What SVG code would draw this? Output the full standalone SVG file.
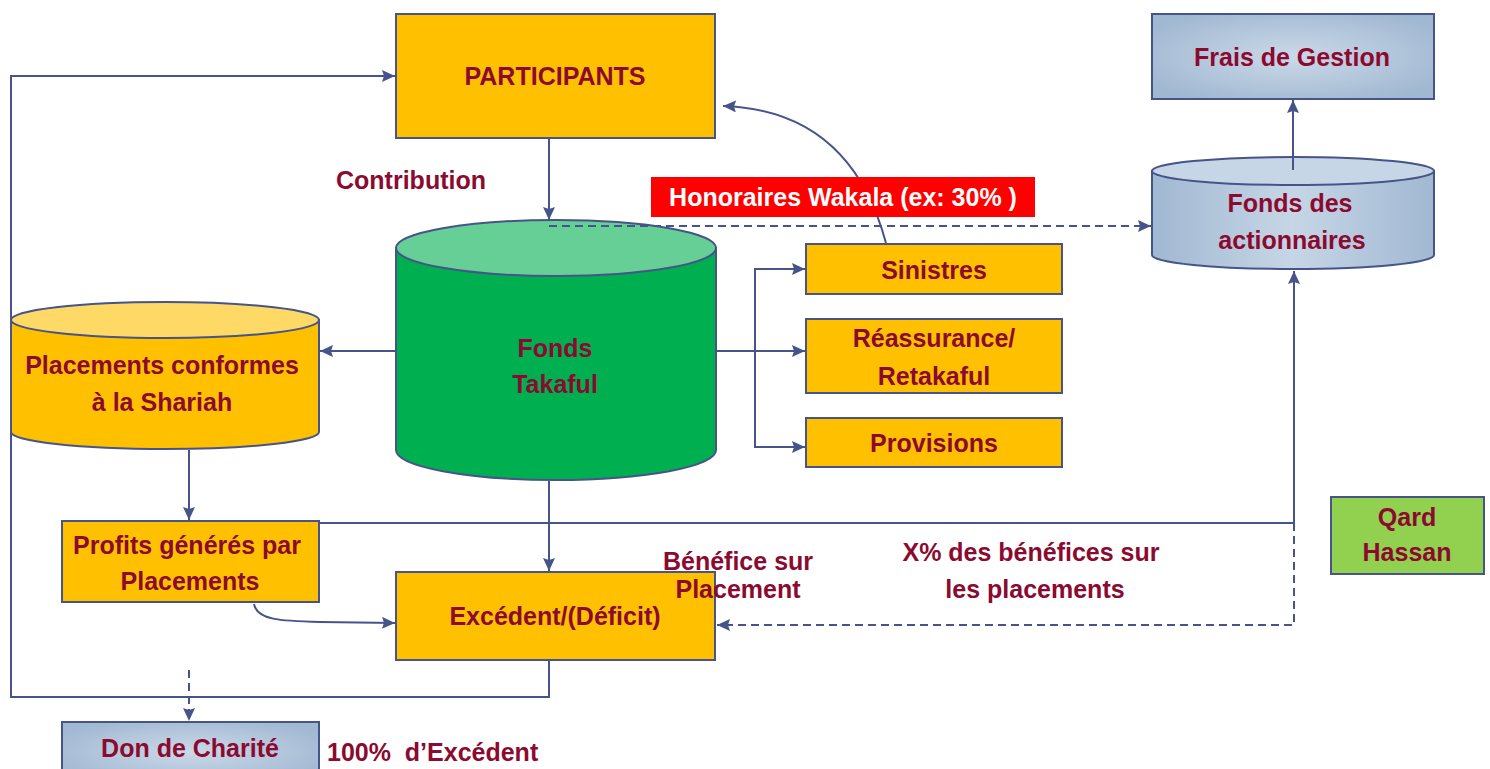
<svg xmlns="http://www.w3.org/2000/svg" width="1490" height="769" viewBox="0 0 1490 769">
  <defs>
    <style>
      .lbl { font-family: "Liberation Sans", Arial, sans-serif; font-weight: bold; font-size: 25px; fill: #8B0A30; text-anchor: middle; }
      .white { fill: #FFFFFF; }
      .start { text-anchor: start; }
      .box { stroke: #46548A; stroke-width: 2; }
      .gold { fill: #FFC000; }
      .blue { fill: url(#steel); }
      .link { fill: none; stroke: #46548A; stroke-width: 2; }
      .dash { stroke-dasharray: 8 5; }
    </style>
    <radialGradient id="steel" cx="50%" cy="50%" r="60%">
      <stop offset="0" stop-color="#CBD9E8"/>
      <stop offset="1" stop-color="#A1B8D2"/>
    </radialGradient>
    <linearGradient id="steelBody" x1="0" y1="0" x2="1" y2="0">
      <stop offset="0" stop-color="#A1B8D2"/>
      <stop offset="0.5" stop-color="#C6D6E6"/>
      <stop offset="1" stop-color="#A1B8D2"/>
    </linearGradient>
    <marker id="arrow" viewBox="0 0 13 12" refX="13" refY="6" markerWidth="13" markerHeight="12" markerUnits="userSpaceOnUse" orient="auto">
      <path d="M0,0 L13,6 L0,12 L2,6 Z" fill="#46548A"/>
    </marker>
  </defs>

  <g id="participants">
    <rect class="box gold" x="396" y="14" width="319" height="124"/>
    <text class="lbl" x="555" y="85">PARTICIPANTS</text>
  </g>

  <g id="fonds-takaful">
    <path class="box" fill="#00B050" d="M396,248 V450 A160,30 0 0 0 716,450 V248 Z"/>
    <ellipse class="box" fill="#66CF96" cx="556" cy="248" rx="160" ry="28"/>
    <text class="lbl" x="555" y="357">Fonds</text>
    <text class="lbl" x="555" y="393">Takaful</text>
  </g>

  <g id="frais-gestion">
    <rect class="box blue" x="1152" y="14" width="282" height="85"/>
    <text class="lbl" x="1292" y="66">Frais de Gestion</text>
  </g>

  <g id="fonds-actionnaires">
    <path class="box" fill="url(#steelBody)" d="M1152,171 V255 A141,14 0 0 0 1434,255 V171 Z"/>
    <ellipse class="box" fill="#C6D6E6" cx="1293" cy="171" rx="141" ry="14"/>
    <text class="lbl" x="1290" y="212">Fonds des</text>
    <text class="lbl" x="1292" y="249">actionnaires</text>
  </g>

  <g id="sinistres">
    <rect class="box gold" x="806" y="244" width="256" height="50"/>
    <text class="lbl" x="934" y="279">Sinistres</text>
  </g>

  <g id="reassurance">
    <rect class="box gold" x="806" y="319" width="256" height="74"/>
    <text class="lbl" x="934" y="347">Réassurance/</text>
    <text class="lbl" x="934" y="385">Retakaful</text>
  </g>

  <g id="provisions">
    <rect class="box gold" x="806" y="418" width="256" height="49"/>
    <text class="lbl" x="934" y="452">Provisions</text>
  </g>

  <g id="placements">
    <path class="box gold" d="M11,320 V432 A154,17 0 0 0 319,432 V320 Z"/>
    <ellipse class="box" fill="#FFD966" cx="165" cy="320" rx="154" ry="18"/>
    <text class="lbl" x="162" y="374">Placements conformes</text>
    <text class="lbl" x="162" y="411">à la Shariah</text>
  </g>

  <g id="profits">
    <rect class="box gold" x="62" y="521" width="257" height="81"/>
    <text class="lbl" x="187" y="554">Profits générés par</text>
    <text class="lbl" x="190" y="590">Placements</text>
  </g>

  <g id="excedent">
    <rect class="box gold" x="396" y="572" width="319" height="88"/>
    <text class="lbl" x="555" y="625">Excédent/(Déficit)</text>
  </g>

  <g id="qard-hassan">
    <rect class="box" fill="#92D050" x="1331" y="497" width="153" height="77"/>
    <text class="lbl" x="1407" y="526">Qard</text>
    <text class="lbl" x="1407" y="561">Hassan</text>
  </g>

  <g id="don-charite">
    <rect class="box blue" x="62" y="722" width="257" height="60"/>
    <text class="lbl" x="190" y="757">Don de Charité</text>
  </g>

  <!-- connectors -->
  <g id="connectors">
    <!-- surplus returned to participants -->
    <path class="link" d="M549,661 V697 H11 V76 H395" marker-end="url(#arrow)"/>
    <!-- contribution -->
    <path class="link" d="M549,139 V220" marker-end="url(#arrow)"/>
    <!-- wakala fee to shareholders -->
    <path class="link dash" d="M549,226 H1151" marker-end="url(#arrow)"/>
    <!-- claims back to participants -->
    <path class="link" d="M886,243 Q850,110 723,106" marker-end="url(#arrow)"/>
    <!-- fund to outflows -->
    <path class="link" d="M717,351 H805" marker-end="url(#arrow)"/>
    <path class="link" d="M805,269 H755 V447 H805" marker-end="url(#arrow)"/>
    <path class="link" d="M755,269 H805" marker-end="url(#arrow)"/>
    <!-- fund to investments -->
    <path class="link" d="M395,351 H320" marker-end="url(#arrow)"/>
    <path class="link" d="M189,450 V520" marker-end="url(#arrow)"/>
    <!-- profits to shareholders -->
    <path class="link" d="M320,523 H1294 V271" marker-end="url(#arrow)"/>
    <!-- share of profits back to surplus -->
    <path class="link dash" d="M1294,523 V625 H717" marker-end="url(#arrow)"/>
    <!-- fund to surplus -->
    <path class="link" d="M549,481 V571" marker-end="url(#arrow)"/>
    <!-- profits to surplus -->
    <path class="link" d="M254,604 C257,620 280,621 320,622 L395,623" marker-end="url(#arrow)"/>
    <!-- fees -->
    <path class="link" d="M1293,170 V100" marker-end="url(#arrow)"/>
    <!-- charity -->
    <path class="link dash" d="M189,670 V721" marker-end="url(#arrow)"/>
  </g>

  <g id="honoraires">
    <rect fill="#FF0000" x="651" y="177" width="384" height="40"/>
    <text class="lbl white" x="843" y="206">Honoraires Wakala (ex: 30% )</text>
  </g>

  <g id="contribution-label">
    <text class="lbl" x="411" y="189">Contribution</text>
  </g>

  <g id="benefice-label">
    <text class="lbl" x="738" y="570">Bénéfice sur</text>
    <text class="lbl" x="738" y="598">Placement</text>
  </g>

  <g id="x-percent-label">
    <text class="lbl" x="1031" y="561">X% des bénéfices sur</text>
    <text class="lbl" x="1035" y="598">les placements</text>
  </g>

  <g id="excedent-share">
    <text class="lbl start" x="327" y="761" xml:space="preserve">100%  d’Excédent</text>
  </g>
</svg>
